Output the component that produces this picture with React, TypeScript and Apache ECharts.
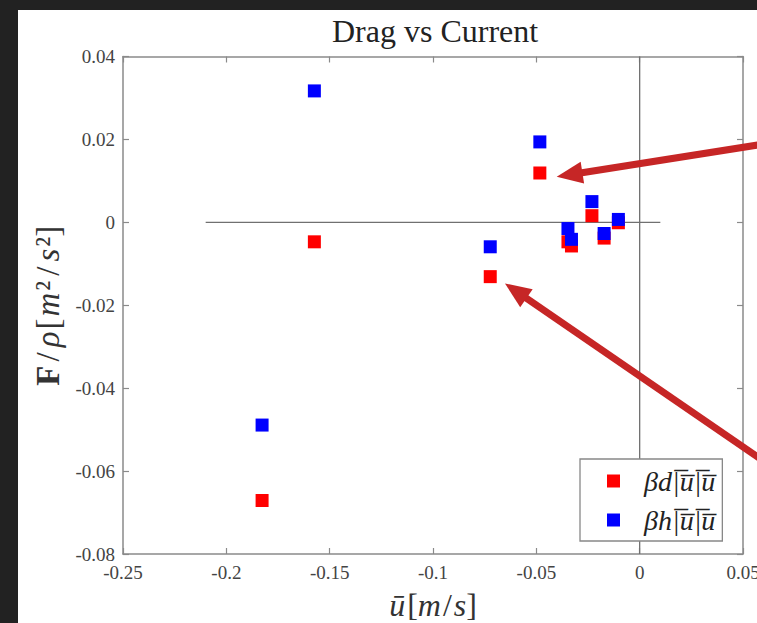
import React, { useEffect, useRef } from "react";
import * as echarts from "echarts";

// mean current ū [m/s]
const uBar = [-0.1827, -0.1574, -0.0723, -0.0483, -0.0347, -0.033, -0.0231, -0.0172, -0.0103];
// drag estimates F/ρ [m²/s²]
const dragD = [-0.0671, -0.0047, -0.0131, 0.0119, -0.0047, -0.0057, 0.0016, -0.0038, -0.0001];
const dragH = [-0.0489, 0.0317, -0.0059, 0.0194, -0.0015, -0.0041, 0.005, -0.0027, 0.0007];
const seriesNames = ["βd|\u0305u\u0305|\u0305u\u0305", "βh|\u0305u\u0305|\u0305u\u0305"];
const xRange = [-0.25, 0.05];
const xStep = 0.05;
const yRange = [-0.08, 0.04];
const yStep = 0.02;
const zeroLineHX = [-0.21, 0.01];

const SERIF = "'Liberation Serif', 'DejaVu Serif', serif";
const AXIS_COLOR = "#8a8a8a";

function arrow(tip: number[], tail: number[], color: string) {
  const dx = tail[0] - tip[0];
  const dy = tail[1] - tip[1];
  const len = Math.hypot(dx, dy);
  const ux = dx / len;
  const uy = dy / len;
  const nx = -uy;
  const ny = ux;
  const hl = 26;
  const hw = 11;
  const bx = tip[0] + ux * hl;
  const by = tip[1] + uy * hl;
  return [
    {
      type: "line",
      z: 100,
      shape: { x1: bx - ux * 2, y1: by - uy * 2, x2: tail[0], y2: tail[1] },
      style: { stroke: color, lineWidth: 7 },
    },
    {
      type: "polygon",
      z: 100,
      shape: {
        points: [
          [tip[0], tip[1]],
          [bx + nx * hw, by + ny * hw],
          [bx - nx * hw, by - ny * hw],
        ],
      },
      style: { fill: color },
    },
  ];
}

export default function App() {
  const ref = useRef<HTMLDivElement>(null);
  useEffect(() => {
    if (!ref.current) return;
    const chart = echarts.init(ref.current, null, { renderer: "svg" });
    const axisCommon = {
      type: "value",
      splitLine: { show: false },
      axisLine: { show: true, onZero: false, lineStyle: { color: AXIS_COLOR, width: 1.5 } },
      axisTick: { show: true, inside: true, length: 6, lineStyle: { color: AXIS_COLOR, width: 1.2 } },
    };
    const labelStyle = { color: "#444", fontFamily: SERIF, fontSize: 19 };
    const arrowColor = "#c62626";
    const nameFs = 33;
    chart.setOption({
      animation: false,
      backgroundColor: "#222222",
      title: {
        text: "Drag vs Current",
        left: 327,
        top: 10,
        textStyle: { fontFamily: SERIF, fontSize: 32, fontWeight: "normal", color: "#222" },
      },
      grid: { left: 123, top: 56.5, right: 14, bottom: 69, outerBoundsMode: "none", containLabel: false },
      legend: {
        orient: "vertical",
        left: 580,
        top: 459,
        padding: [8, 7, 7, 27],
        itemWidth: 13,
        itemHeight: 13,
        itemGap: 11,
        backgroundColor: "#fff",
        borderColor: "#888",
        borderWidth: 1.3,
        borderRadius: 0,
        icon: "rect",
        textStyle: {
          fontFamily: SERIF,
          fontStyle: "italic",
          fontSize: 28,
          lineHeight: 26,
          color: "#222",
          padding: [0, 0, 0, 19],
        },
        data: seriesNames,
      },
      xAxis: [
        {
          ...axisCommon,
          position: "bottom",
          min: xRange[0],
          max: xRange[1],
          interval: xStep,
          axisLabel: { ...labelStyle, margin: 9 },
          name: "{u|ū}{n|[}{i|m}{s|/}{i|s}{n|]}",
          nameLocation: "middle",
          nameGap: 35,
          nameTextStyle: {
            rich: {
              u: { fontFamily: SERIF, fontStyle: "italic", fontSize: 32, color: "#333", padding: [0, 2, 0, 0] },
              i: { fontFamily: SERIF, fontStyle: "italic", fontSize: 32, color: "#333" },
              n: { fontFamily: SERIF, fontSize: 32, color: "#333" },
              s: { fontFamily: SERIF, fontSize: 32, color: "#333", padding: [0, 2, 0, 2] },
            },
          },
        },
        {
          ...axisCommon,
          position: "top",
          min: xRange[0],
          max: xRange[1],
          interval: xStep,
          axisLabel: { show: false },
        },
      ],
      yAxis: [
        {
          ...axisCommon,
          position: "left",
          min: yRange[0],
          max: yRange[1],
          interval: yStep,
          axisLabel: { ...labelStyle, margin: 8 },
          name: "{b|F}{s|/}{i|ρ}{n|[}{i|m}{n|²}{s|/}{i|s}{n|²]}",
          nameLocation: "middle",
          nameRotate: 90,
          nameGap: 57,
          nameTextStyle: {
            rich: {
              b: { fontFamily: SERIF, fontWeight: "bold", fontSize: nameFs, color: "#333" },
              i: { fontFamily: SERIF, fontStyle: "italic", fontSize: nameFs, color: "#333", padding: [0, 1, 0, 1] },
              n: { fontFamily: SERIF, fontSize: nameFs, color: "#333", padding: [0, 1, 0, 1] },
              s: { fontFamily: SERIF, fontSize: nameFs, color: "#333", padding: [0, 4, 0, 4] },
            },
          },
        },
        {
          ...axisCommon,
          position: "right",
          min: yRange[0],
          max: yRange[1],
          interval: yStep,
          axisLabel: { show: false },
        },
      ],
      series: [
        {
          type: "line",
          silent: true,
          symbol: "none",
          data: [
            [0, yRange[0]],
            [0, yRange[1]],
          ],
          lineStyle: { color: "#707070", width: 1.3 },
          z: 1,
        },
        {
          type: "line",
          silent: true,
          symbol: "none",
          data: zeroLineHX.map((x) => [x, 0]),
          lineStyle: { color: "#707070", width: 1.3 },
          z: 1,
        },
        {
          name: seriesNames[0],
          type: "scatter",
          symbol: "rect",
          symbolSize: 13,
          itemStyle: { color: "#ff0000", opacity: 1 },
          data: uBar.map((x, i) => [x, dragD[i]]),
          z: 3,
        },
        {
          name: seriesNames[1],
          type: "scatter",
          symbol: "rect",
          symbolSize: 13,
          itemStyle: { color: "#0000ff", opacity: 1 },
          data: uBar.map((x, i) => [x, dragH[i]]),
          z: 4,
        },
      ],
      graphic: [
        {
          type: "rect",
          z: -100,
          silent: true,
          shape: { x: 18, y: 10, width: 760, height: 620 },
          style: { fill: "#ffffff" },
        },
        ...arrow([556.7, 176.7], [762, 144.3], arrowColor),
        ...arrow([505, 283.5], [762, 460], arrowColor),
      ],
    });
    return () => chart.dispose();
  }, []);
  return (
    <div
      ref={ref}
      style={{ position: "fixed", left: 0, top: 0, width: 757, height: 623 }}
    />
  );
}
